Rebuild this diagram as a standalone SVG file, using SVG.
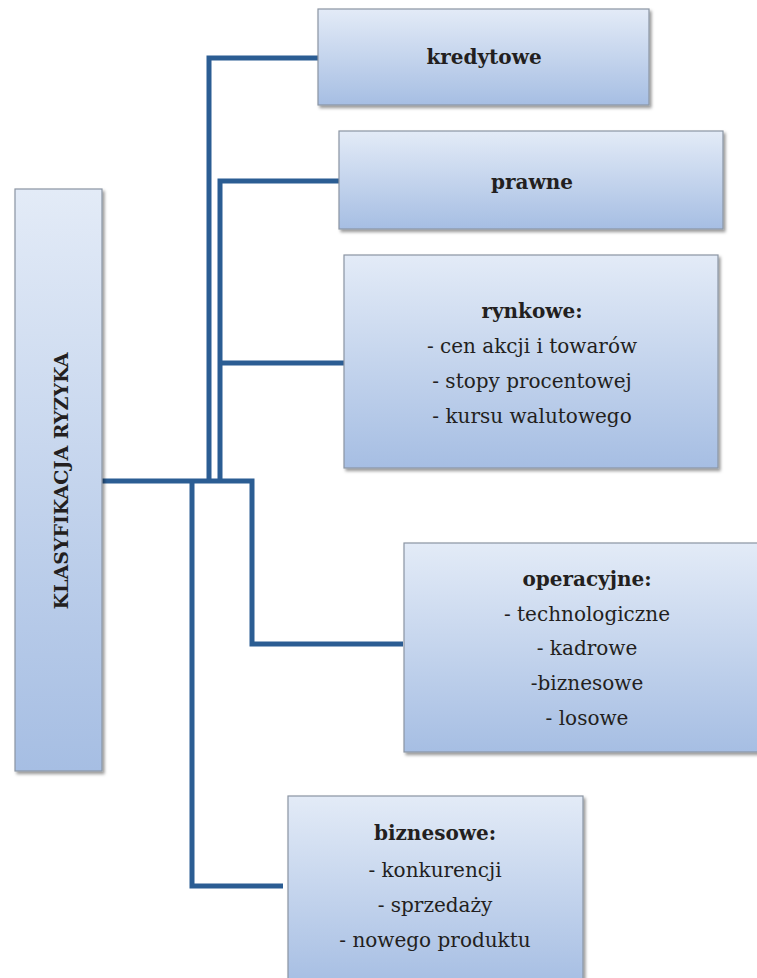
<svg xmlns="http://www.w3.org/2000/svg" width="757" height="978" viewBox="0 0 757 978">
<defs>
<linearGradient id="g" x1="0" y1="0" x2="0" y2="1">
<stop offset="0" stop-color="#e3ebf7"/>
<stop offset="1" stop-color="#a6bee3"/>
</linearGradient>
<filter id="sh" x="-10%" y="-10%" width="130%" height="130%">
<feDropShadow dx="2" dy="2.5" stdDeviation="1.5" flood-color="#000" flood-opacity="0.4"/>
</filter>
</defs>
<style>
.box{fill:url(#g);stroke:#8b95a3;stroke-width:1.2;filter:url(#sh)}
.t{font-family:"DejaVu Serif","Liberation Serif",serif;font-size:20px;fill:#231f20;text-anchor:middle}
.b{font-weight:bold}
.r{font-size:19px}
.c{fill:none;stroke:#2b5d93;stroke-width:5;stroke-linejoin:miter;stroke-linecap:butt}
</style>
<g id="connectors">
<path class="c" d="M102 481 H252 V644 H403"/>
<path class="c" d="M192 481 V886 H283"/>
<path class="c" d="M209 481 V58 H318"/>
<path class="c" d="M220 481 V181 H339"/>
<path class="c" d="M220 363 H344"/>
</g>
<g id="root">
<rect class="box" x="15" y="189" width="87" height="582"/>
<text class="t b r" x="60" y="489" transform="rotate(-90 60 481)">KLASYFIKACJA RYZYKA</text>
</g>
<g id="kredytowe">
<rect class="box" x="318" y="9" width="331" height="96"/>
<text class="t b" x="484" y="64">kredytowe</text>
</g>
<g id="prawne">
<rect class="box" x="339" y="131" width="384" height="98"/>
<text class="t b" x="532" y="189">prawne</text>
</g>
<g id="rynkowe">
<rect class="box" x="344" y="255" width="374" height="213"/>
<text class="t b" x="532" y="318">rynkowe:</text>
<text class="t" x="532" y="353">- cen akcji i towarów</text>
<text class="t" x="532" y="388">- stopy procentowej</text>
<text class="t" x="532" y="423">- kursu walutowego</text>
</g>
<g id="operacyjne">
<rect class="box" x="404" y="543" width="358" height="209"/>
<text class="t b" x="587" y="586">operacyjne:</text>
<text class="t" x="587" y="621">- technologiczne</text>
<text class="t" x="587" y="655">- kadrowe</text>
<text class="t" x="587" y="690">-biznesowe</text>
<text class="t" x="587" y="725">- losowe</text>
</g>
<g id="biznesowe">
<rect class="box" x="288" y="796" width="295" height="190"/>
<text class="t b" x="435" y="840">biznesowe:</text>
<text class="t" x="435" y="877">- konkurencji</text>
<text class="t" x="435" y="912">- sprzedaży</text>
<text class="t" x="435" y="947">- nowego produktu</text>
</g>
</svg>
